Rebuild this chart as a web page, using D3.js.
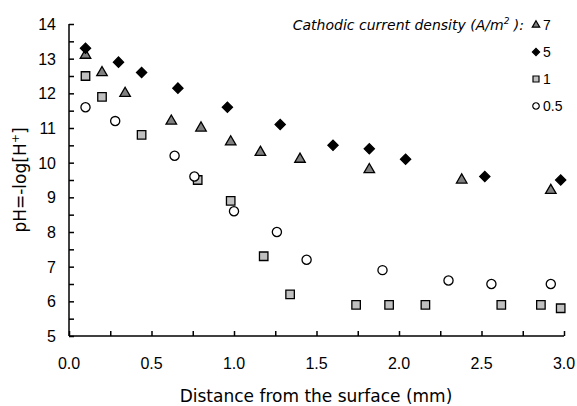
<!DOCTYPE html>
<html>
<head>
<meta charset="utf-8">
<script src="https://cdn.jsdelivr.net/npm/d3@7"></script>
<style>
  body { margin: 0; background: #fff; }
  svg { display: block; }
</style>
</head>
<body>
<svg id="chart"></svg>
<script>
// distance (mm) and pH for each cathodic current density (A/m2)
const x7 = [0.10, 0.20, 0.34, 0.62, 0.80, 0.98, 1.16, 1.40, 1.82, 2.38, 2.92];
const y7 = [13.1, 12.6, 12.0, 11.2, 11.0, 10.6, 10.3, 10.1, 9.8, 9.5, 9.2];
const x5 = [0.10, 0.30, 0.44, 0.66, 0.96, 1.28, 1.60, 1.82, 2.04, 2.52, 2.98];
const y5 = [13.3, 12.9, 12.6, 12.15, 11.6, 11.1, 10.5, 10.4, 10.1, 9.6, 9.5];
const x1 = [0.10, 0.20, 0.44, 0.78, 0.98, 1.18, 1.34, 1.74, 1.94, 2.16, 2.62, 2.86, 2.98];
const y1 = [12.5, 11.9, 10.8, 9.5, 8.9, 7.3, 6.2, 5.9, 5.9, 5.9, 5.9, 5.9, 5.8];
const x05 = [0.10, 0.28, 0.64, 0.76, 1.00, 1.26, 1.44, 1.90, 2.30, 2.56, 2.92];
const y05 = [11.6, 11.2, 10.2, 9.6, 8.6, 8.0, 7.2, 6.9, 6.6, 6.5, 6.5];

const seriesNames = ["7", "5", "1", "0.5"];
const xTicks = [0, 0.5, 1, 1.5, 2, 2.5, 3];
const yTicks = [5, 6, 7, 8, 9, 10, 11, 12, 13, 14];

const width = 577;
const height = 406;

// diamond = square turned by 45 degrees
const series = [
  { name: seriesNames[0], xs: x7, ys: y7, shape: d3.symbolTriangle, size: 48, rot: 0, fill: "#808080" },
  { name: seriesNames[1], xs: x5, ys: y5, shape: d3.symbolSquare, size: 52, rot: 45, fill: "#000" },
  { name: seriesNames[2], xs: x1, ys: y1, shape: d3.symbolSquare, size: 72, rot: 0, fill: "#c0c0c0" },
  { name: seriesNames[3], xs: x05, ys: y05, shape: d3.symbolCircle, size: 66, rot: 0, fill: "#fff" }
];

const svg = d3.select("#chart")
    .attr("width", width)
    .attr("height", height);

const x = d3.scaleLinear().domain([0, 3]).range([69, 564]);
const y = d3.scaleLinear().domain([5, 14]).range([336, 24]);

// axes: ticks point inward
const xAxis = svg.append("g")
    .attr("transform", "translate(0,336)")
    .call(d3.axisBottom(x).tickValues(d3.range(0, 3.01, 0.25)).tickSize(-5).tickFormat(""));
xAxis.selectAll("path, line").attr("stroke", "#000").attr("stroke-width", 1.5);
xAxis.select(".domain").attr("d", "M69,0H564");

const yAxis = svg.append("g")
    .attr("transform", "translate(69,0)")
    .call(d3.axisLeft(y).tickValues(d3.range(5, 14.01, 0.5)).tickSize(-5).tickFormat(""));
yAxis.selectAll("path, line").attr("stroke", "#000").attr("stroke-width", 1.5);
yAxis.select(".domain").attr("d", "M0,24V336");

svg.append("g")
    .selectAll("text")
    .data(xTicks)
    .enter()
    .append("text")
    .attr("x", d => x(d))
    .attr("y", 369)
    .attr("text-anchor", "middle")
    .attr("font-family", "Liberation Sans, Arial, sans-serif")
    .attr("font-size", "16px")
    .text(d => d3.format(".1f")(d));

svg.append("g")
    .selectAll("text")
    .data(yTicks)
    .enter()
    .append("text")
    .attr("x", 56)
    .attr("y", d => y(d) + 6)
    .attr("text-anchor", "end")
    .attr("font-family", "Liberation Sans, Arial, sans-serif")
    .attr("font-size", "16px")
    .text(d => d);

svg.append("text")
    .attr("x", 316)
    .attr("y", 402)
    .attr("text-anchor", "middle")
    .attr("font-family", "DejaVu Sans, sans-serif")
    .attr("font-size", "17px")
    .text("Distance from the surface (mm)");

const yLabel = svg.append("text")
    .attr("transform", "translate(26,180) rotate(-90)")
    .attr("text-anchor", "middle")
    .attr("font-family", "DejaVu Sans, sans-serif")
    .attr("font-size", "17px");
yLabel.append("tspan").text("pH=-log[H");
yLabel.append("tspan").attr("font-size", "11px").attr("dy", -7).text("+");
yLabel.append("tspan").attr("dy", 7).text("]");

// points
series.forEach(s => {
  svg.append("g")
      .selectAll("path")
      .data(s.xs.map((d, i) => [d, s.ys[i]]))
      .enter()
      .append("path")
      .attr("transform", d => "translate(" + x(d[0]) + "," + y(d[1]) + ") rotate(" + s.rot + ")")
      .attr("d", d3.symbol().type(s.shape).size(s.size))
      .attr("fill", s.fill)
      .attr("stroke", "#000")
      .attr("stroke-width", 1.3);
});

// legend
const legendTitle = svg.append("text")
    .attr("x", 524)
    .attr("y", 30)
    .attr("text-anchor", "end")
    .attr("font-family", "DejaVu Sans, sans-serif")
    .attr("font-style", "italic")
    .attr("font-size", "14px");
legendTitle.append("tspan").text("Cathodic current density (A/m");
legendTitle.append("tspan").attr("font-size", "9px").attr("dy", -6).text("2");
legendTitle.append("tspan").attr("dy", 6).text(" ):");

const legend = svg.append("g")
    .selectAll("g")
    .data(series)
    .enter()
    .append("g")
    .attr("transform", (d, i) => "translate(536," + (25 + i * 27) + ")");

legend.append("path")
    .attr("transform", d => "rotate(" + d.rot + ")")
    .attr("d", d => d3.symbol().type(d.shape).size(d.size * 0.5)())
    .attr("fill", d => d.fill)
    .attr("stroke", "#000")
    .attr("stroke-width", 1.2);

legend.append("text")
    .attr("x", 7)
    .attr("y", 5)
    .attr("font-family", "Liberation Sans, Arial, sans-serif")
    .attr("font-size", "14px")
    .text(d => d.name);
</script>
</body>
</html>
